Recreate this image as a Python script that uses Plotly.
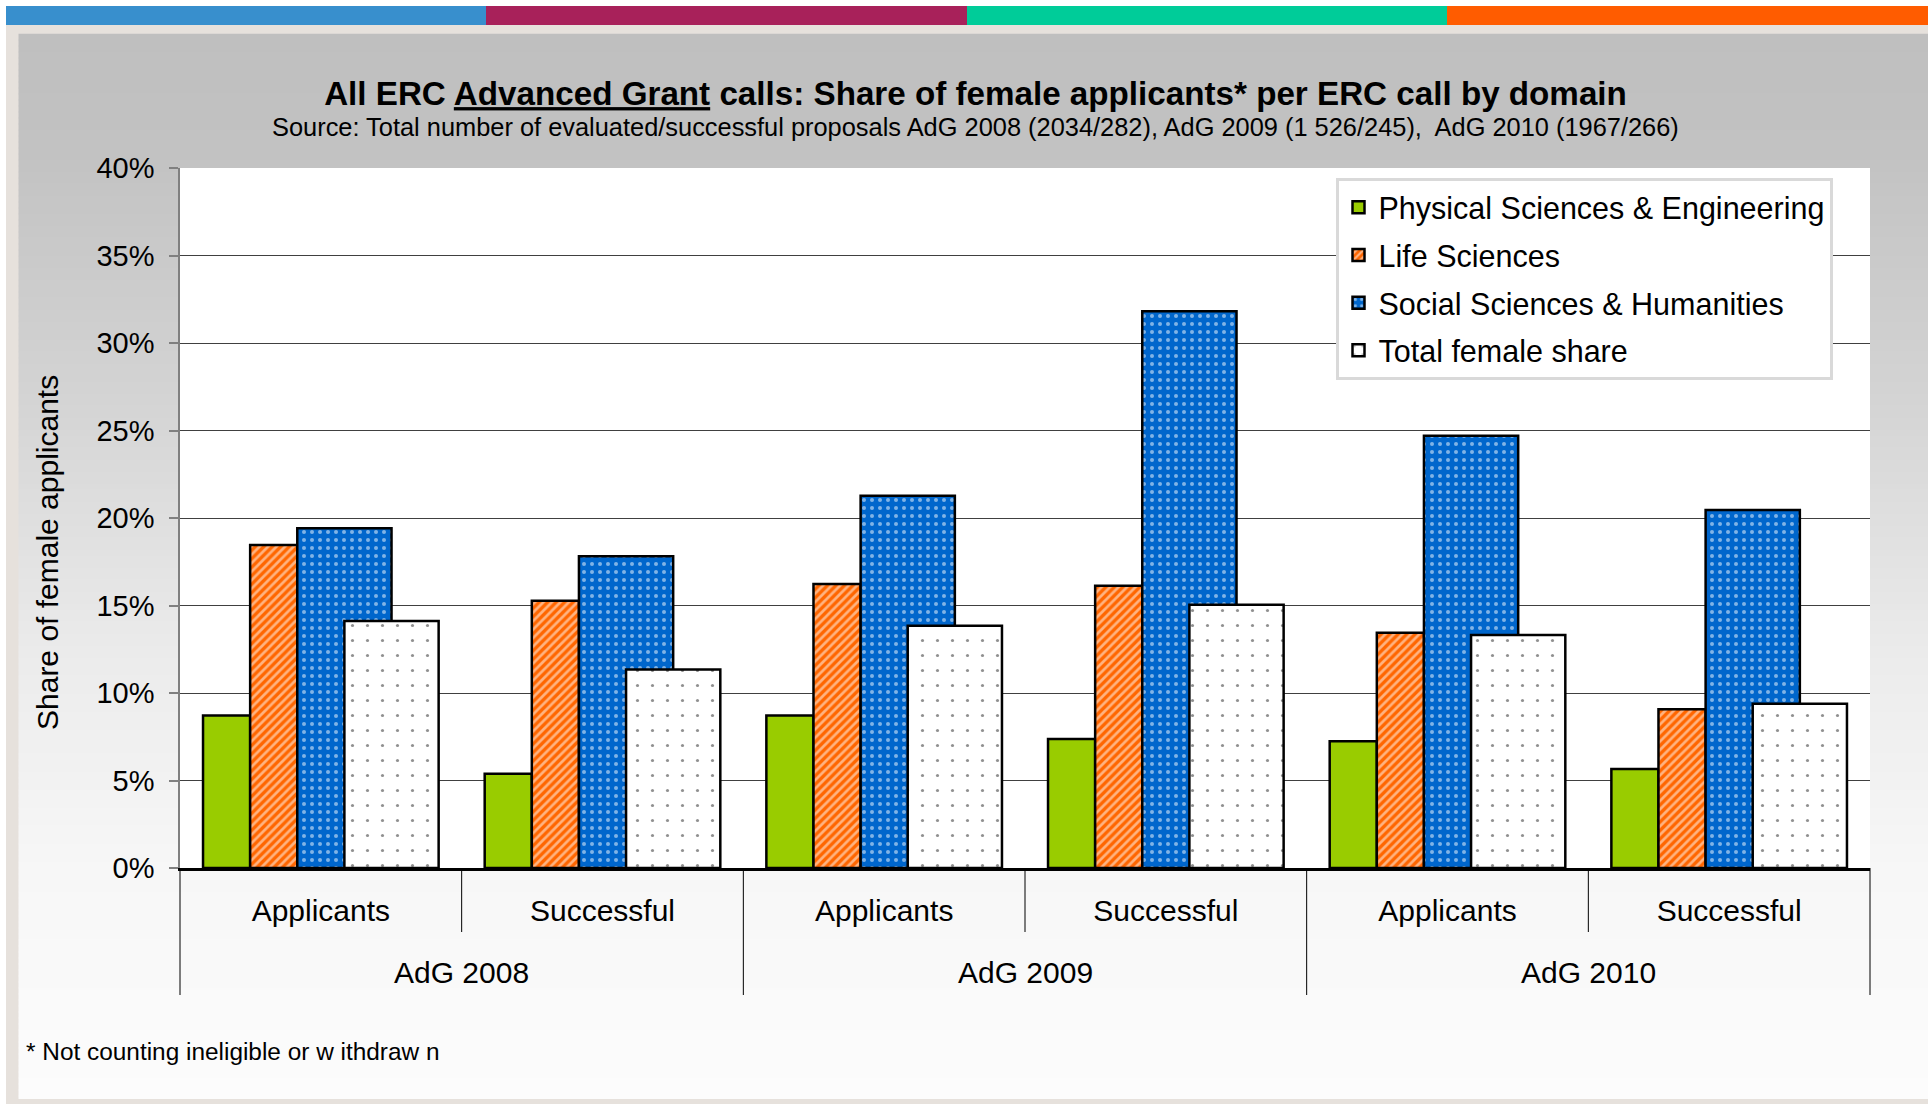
import plotly.graph_objects as go

# ---------------- data ----------------
years = ["AdG 2008", "AdG 2009", "AdG 2010"]
stages = ["Applicants", "Successful", "Applicants", "Successful", "Applicants", "Successful"]
pse = [8.71, 5.39, 8.71, 7.37, 7.24, 5.66]
life = [18.46, 15.27, 16.23, 16.13, 13.44, 9.07]
ssh = [19.42, 17.81, 21.27, 31.81, 24.70, 20.46]
total = [14.11, 11.34, 13.84, 15.04, 13.31, 9.38]
series_names = ["Physical Sciences & Engineering", "Life Sciences",
                "Social Sciences & Humanities", "Total female share"]
y_ticks = [0, 5, 10, 15, 20, 25, 30, 35, 40]
y_tick_labels = [f"{v}%" for v in y_ticks]

title_text = "<b>All ERC <u>Advanced Grant</u> calls: Share of female applicants* per ERC call by domain</b>"
subtitle_text = ("Source: Total number of evaluated/successful proposals AdG 2008 (2034/282), "
                 "AdG 2009 (1 526/245),  AdG 2010 (1967/266)")
y_title = "Share of female applicants"
footnote = "* Not counting ineligible or w ithdraw n"

# ---------------- layout geometry ----------------
W, H = 1930, 1104
L, R, T, B = 180, 60, 168, 236
PW, PH = W - L - R, H - T - B
FONT = "Liberation Sans, Arial, sans-serif"


def xp(px):
    return (px - L) / PW


def yp(py):
    return (H - B - py) / PH


def rect(x0, y0, x1, y1, color, layer="below"):
    return dict(type="rect", xref="paper", yref="paper",
                x0=xp(x0), x1=xp(x1), y0=yp(y1), y1=yp(y0),
                fillcolor=color, line=dict(width=0), layer=layer)


shapes = []
shapes.append(rect(0, 0, W, H, "#FFFFFF"))
# top colour band
band = [("#388FCD", 6, 486), ("#A8215A", 486, 967), ("#00CC99", 967, 1447), ("#FF5C00", 1447, 1928)]
for c, a, b in band:
    shapes.append(rect(a, 6, b, 25, c))
# beige frame
shapes.append(rect(6, 25, 1928, H, "#E6E1DC"))
# vertical gradient of the slide background
stops = [(33, 191), (150, 194), (400, 212), (650, 235), (870, 247), (1100, 252)]


def grey_at(py):
    for (a, ga), (b, gb) in zip(stops[:-1], stops[1:]):
        if py <= b:
            t = (py - a) / (b - a)
            return ga + (gb - ga) * t
    return stops[-1][1]


step = 6
py = 33.7
while py < 1099:
    g = int(round(grey_at(py + step / 2)))
    shapes.append(rect(18.5, py, 1928, min(py + step + 0.6, 1099), f"rgb({g},{g},{g})"))
    py += step
# white plot area
shapes.append(rect(L, T, W - R, H - B, "#FFFFFF"))

# category dividers below the axis
n_cat = len(stages)
for k in range(n_cat + 1):
    xx = k / n_cat
    depth = 127 if k % 2 == 0 else 64
    shapes.append(dict(type="line", xref="paper", yref="paper",
                       x0=xx, x1=xx, y0=0, y1=-depth / PH,
                       line=dict(color="#000000", width=1), layer="above"))

# ---------------- bars ----------------
x_pos = list(range(n_cat))
u = 0.1673
left = -2.5 * u
outline = dict(color="#000000", width=2.5)

fig = go.Figure()
fig.add_trace(go.Bar(
    x=x_pos, y=pse, name=series_names[0], legendgroup="a",
    offset=left, width=u,
    marker=dict(color="#99CC00", line=outline),
))
fig.add_trace(go.Bar(
    x=x_pos, y=life, name=series_names[1], legendgroup="b",
    offset=left + u, width=u,
    marker=dict(color="#FF6600", line=outline,
                pattern=dict(shape="/", fgcolor="#FFFFFF", bgcolor="#FF6600",
                             size=6, solidity=0.45)),
))
fig.add_trace(go.Bar(
    x=x_pos, y=ssh, name=series_names[2], legendgroup="c",
    offset=left + 2 * u, width=2 * u,
    marker=dict(color="#0066CC", line=outline,
                pattern=dict(shape=".", fgcolor="#FFFFFF", bgcolor="#0066CC",
                             size=8, solidity=0.2)),
))
fig.add_trace(go.Bar(
    x=x_pos, y=total, name=series_names[3], legendgroup="d",
    offset=left + 3 * u, width=2 * u,
    marker=dict(color="#FFFFFF", line=outline,
                pattern=dict(shape=".", fgcolor="#222222", bgcolor="#FFFFFF",
                             size=15, solidity=0.035)),
))

fig.update_layout(
    width=W, height=H, autosize=False,
    margin=dict(l=L, r=R, t=T, b=B, pad=0),
    paper_bgcolor="#FFFFFF", plot_bgcolor="#FFFFFF",
    barmode="overlay",
    font=dict(family=FONT, color="#000000", size=28),
    shapes=shapes,
    title=dict(text=title_text, x=xp(975.5), xref="paper", xanchor="center",
               y=1 - 93.5 / H, yref="container", yanchor="middle",
               font=dict(family=FONT, size=33.2, color="#000000")),
    legend=dict(x=xp(1335.5), y=yp(178), xanchor="left", yanchor="top",
                bgcolor="#FFFFFF", bordercolor="#D9D9D9", borderwidth=3,
                font=dict(family=FONT, size=30.5, color="#000000"),
                traceorder="grouped", tracegroupgap=5, entrywidth=450),
    showlegend=True,
)

fig.update_yaxes(
    range=[0, 40], tickvals=y_ticks, ticktext=y_tick_labels,
    showgrid=True, gridcolor="#404040", gridwidth=1.3,
    zeroline=False,
    showline=True, linecolor="#808080", linewidth=1.5,
    ticks="outside", ticklen=9, tickcolor="#808080", tickwidth=1.5,
    ticklabelstandoff=9,
    tickfont=dict(family=FONT, size=29, color="#000000"),
)
fig.update_xaxes(
    range=[-0.5, n_cat - 0.5], tickvals=x_pos, ticktext=stages,
    showline=True, linecolor="#000000", linewidth=2.5,
    showgrid=False, zeroline=False, ticks="",
    ticklabelstandoff=14,
    tickfont=dict(family=FONT, size=30, color="#000000"),
)

for j, yr in enumerate(years):
    fig.add_annotation(text=yr, xref="paper", yref="paper",
                       x=(2 * j + 1) / n_cat, y=yp(972), xanchor="center", yanchor="middle",
                       showarrow=False, font=dict(family=FONT, size=30, color="#000000"))

fig.add_annotation(text=subtitle_text, xref="paper", yref="paper",
                   x=xp(975.5), y=yp(127), xanchor="center", yanchor="middle",
                   showarrow=False, font=dict(family=FONT, size=25.4, color="#000000"))
fig.add_annotation(text=y_title, xref="paper", yref="paper",
                   x=xp(47), y=yp(553), xanchor="center", yanchor="middle",
                   textangle=-90, showarrow=False,
                   font=dict(family=FONT, size=30, color="#000000"))
fig.add_annotation(text=footnote, xref="paper", yref="paper",
                   x=xp(23.5), y=yp(1051), xanchor="left", yanchor="middle",
                   showarrow=False, font=dict(family=FONT, size=24.4, color="#000000"))

fig.write_html("out.html", config={"displayModeBar": False},
               post_script="document.body.style.margin='0px';")
